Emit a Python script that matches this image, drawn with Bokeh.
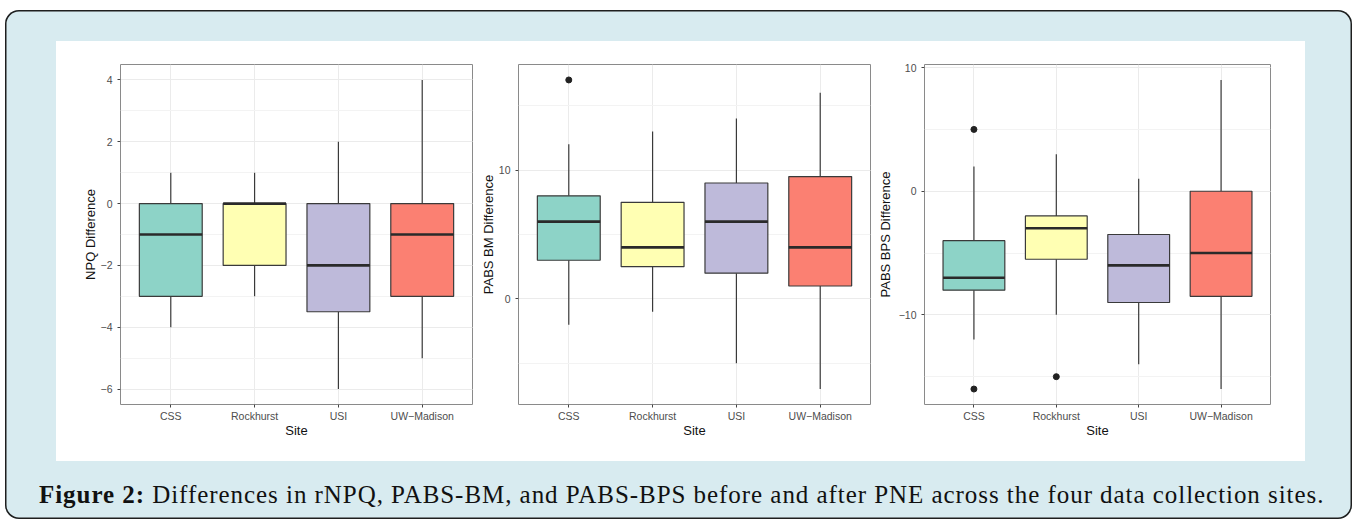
from bokeh.plotting import figure
from bokeh.models import Range1d, FixedTicker, SingleIntervalTicker, Div, Spacer
from bokeh.layouts import row, column
from bokeh.embed import file_html
from bokeh.resources import INLINE

# ---------------- data ----------------
sites = ["CSS", "Rockhurst", "USI", "UW\u2212Madison"]
colors = ["#8DD3C7", "#FFFFB3", "#BEBADA", "#FB8072"]

npq_lower = [-4, -3, -6, -5]
npq_q1 = [-3, -2, -3.5, -3]
npq_med = [-1, 0, -2, -1]
npq_q3 = [0, 0, 0, 0]
npq_upper = [1, 1, 2, 4]
npq_out_site = []
npq_out_val = []

bm_lower = [-2, -1, -5, -7]
bm_q1 = [3, 2.5, 2, 1]
bm_med = [6, 4, 6, 4]
bm_q3 = [8, 7.5, 9, 9.5]
bm_upper = [12, 13, 14, 16]
bm_out_site = ["CSS"]
bm_out_val = [17]

bps_lower = [-12, -10, -14, -16]
bps_q1 = [-8, -5.5, -9, -8.5]
bps_med = [-7, -3, -6, -5]
bps_q3 = [-4, -2, -3.5, 0]
bps_upper = [2, 3, 1, 9]
bps_out_site = ["CSS", "CSS", "Rockhurst"]
bps_out_val = [5, -16, -15]

caption_bold = "Figure 2:"
caption_rest = "Differences in rNPQ, PABS-BM, and PABS-BPS before and after PNE across the four data collection sites."

FONT = "Liberation Sans"


def panel(ylabel, lower, q1, med, q3, upper, out_site, out_val, interval,
          left, right, fw, ystandoff):
    lo = min(lower + out_val)
    hi = max(upper + out_val)
    pad = (hi - lo) * 0.05
    xs = [i + 1 for i in range(len(sites))]
    p = figure(frame_width=fw, frame_height=340,
               x_range=Range1d(0.4, len(sites) + 0.6),
               y_range=Range1d(lo - pad, hi + pad),
               min_border_left=left, min_border_right=right,
               min_border_top=23, min_border_bottom=57,
               output_backend="svg", toolbar_location=None,
               background_fill_color="white", border_fill_color="white",
               outline_line_color="#8a8a8a", outline_line_width=1)
    # grid
    p.xgrid.grid_line_color = "#ebebeb"
    p.ygrid.grid_line_color = "#ebebeb"
    p.ygrid.minor_grid_line_color = "#f3f3f3"
    p.xgrid.grid_line_width = 1
    p.ygrid.grid_line_width = 1
    # axes
    p.xaxis.ticker = FixedTicker(ticks=xs)
    p.xaxis.major_label_overrides = {x: s for x, s in zip(xs, sites)}
    p.yaxis.ticker = SingleIntervalTicker(interval=interval, num_minor_ticks=2)
    for ax in (p.xaxis[0], p.yaxis[0]):
        ax.axis_line_color = None
        ax.major_tick_line_color = "#444444"
        ax.major_tick_out = 3
        ax.major_tick_in = 0
        ax.minor_tick_line_color = None
        ax.major_label_text_font = FONT
        ax.major_label_text_font_size = "10.5px"
        ax.major_label_text_color = "#4d4d4d"
        ax.axis_label_text_font = FONT
        ax.axis_label_text_font_size = "13px"
        ax.axis_label_text_font_style = "normal"
        ax.axis_label_text_color = "#111111"
    p.yaxis.axis_label_standoff = ystandoff
    p.xaxis.axis_label_standoff = -2
    p.yaxis.major_label_standoff = 4
    p.xaxis.major_label_standoff = 2
    p.xaxis.axis_label = "Site"
    p.yaxis.axis_label = ylabel

    # whiskers
    p.segment(x0=xs, x1=xs, y0=q3, y1=upper, line_color="#3a3a3a", line_width=1.2)
    p.segment(x0=xs, x1=xs, y0=lower, y1=q1, line_color="#3a3a3a", line_width=1.2)
    # boxes
    p.vbar(x=xs, width=0.75, bottom=q1, top=q3, fill_color=colors,
           line_color="#3a3a3a", line_width=1.2)
    # medians
    p.segment(x0=[x - 0.375 for x in xs], x1=[x + 0.375 for x in xs],
              y0=med, y1=med, line_color="#2a2a2a", line_width=2.6)
    # outliers
    if out_val:
        ox = [sites.index(s) + 1 for s in out_site]
        p.scatter(x=ox, y=out_val, size=6, fill_color="#222222", line_color="#222222")
    return p


p1 = panel("NPQ Difference", npq_lower, npq_q1, npq_med, npq_q3, npq_upper,
           npq_out_site, npq_out_val, 2, 64, 4, 352, 0)
p2 = panel("PABS BM Difference", bm_lower, bm_q1, bm_med, bm_q3, bm_upper,
           bm_out_site, bm_out_val, 10, 42, 4, 352, 0)
p3 = panel("PABS BPS Difference", bps_lower, bps_q1, bps_med, bps_q3, bps_upper,
           bps_out_site, bps_out_val, 10, 49, 35, 346, 3)

white = row(p1, p2, p3, styles={"background-color": "white"})
top = row(Spacer(width=51, height=420), white)

caption = Div(
    text=('<div style="font-family:\'Liberation Serif\',serif;font-size:25px;'
          'line-height:28px;color:#111;white-space:nowrap;letter-spacing:0.95px;'
          'padding-top:15px;padding-left:29px;">'
          '<b>' + caption_bold + '</b> ' + caption_rest + '</div>'),
    width=1347, height=58)

box = column(Spacer(width=1347, height=31), top, caption, width=1347, height=509,
             styles={"background-color": "#d8ebf0",
                     "border-radius": "14px",
                     "box-shadow": "inset 0 0 0 1.5px #1e1e1e"})

root = column(Spacer(width=1352, height=10),
              row(Spacer(width=5, height=509), box))

open("out.html", "w").write(file_html(root, INLINE))
